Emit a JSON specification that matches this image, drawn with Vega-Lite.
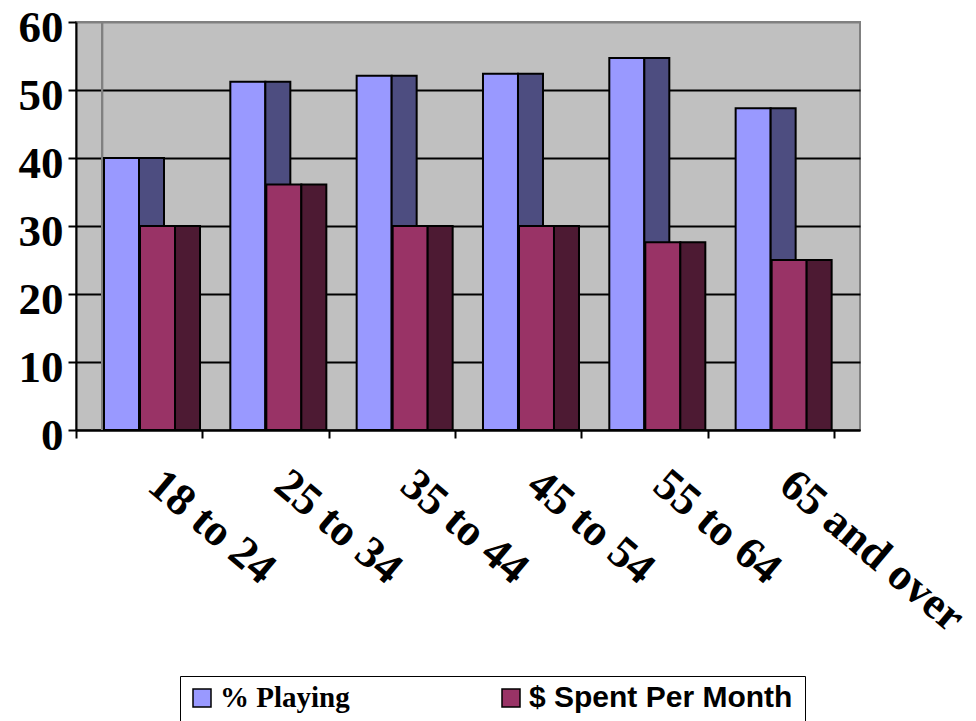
{
  "$schema": "https://vega.github.io/schema/vega-lite/v6.json",
  "autosize": {"type": "none"},
  "width": 784,
  "height": 408,
  "padding": {"left": 76, "top": 22, "right": 116, "bottom": 291},
  "background": "white",
  "view": {"fill": "#C0C0C0", "stroke": "#808080", "strokeWidth": 2},
  "data": {
    "values": [
      {"age": "18 to 24", "series": "% Playing", "value": 40},
      {"age": "18 to 24", "series": "$ Spent Per Month", "value": 30},
      {"age": "25 to 34", "series": "% Playing", "value": 51.2},
      {"age": "25 to 34", "series": "$ Spent Per Month", "value": 36.1},
      {"age": "35 to 44", "series": "% Playing", "value": 52.1},
      {"age": "35 to 44", "series": "$ Spent Per Month", "value": 30},
      {"age": "45 to 54", "series": "% Playing", "value": 52.4},
      {"age": "45 to 54", "series": "$ Spent Per Month", "value": 30},
      {"age": "55 to 64", "series": "% Playing", "value": 54.7},
      {"age": "55 to 64", "series": "$ Spent Per Month", "value": 27.6},
      {"age": "65 and over", "series": "% Playing", "value": 47.3},
      {"age": "65 and over", "series": "$ Spent Per Month", "value": 25}
    ]
  },
  "encoding": {
    "x": {
      "field": "age",
      "type": "nominal",
      "sort": null,
      "scale": {"paddingInner": 0, "paddingOuter": 0.103, "align": 0},
      "axis": {
        "title": null,
        "tickBand": "extent",
        "domainColor": "black",
        "domainWidth": 2,
        "tickColor": "black",
        "tickWidth": 2,
        "tickSize": 8,
        "labelAngle": 40,
        "labelAlign": "left",
        "labelBaseline": "middle",
        "labelPadding": 40,
        "labelOffset": 15,
        "labelFont": "Liberation Serif",
        "labelFontSize": 45,
        "labelFontWeight": "bold",
        "labelColor": "black",
        "labelOverlap": false,
        "labelFlush": false,
        "labelLimit": 400
      }
    },
    "y": {
      "field": "value",
      "type": "quantitative",
      "scale": {"domain": [0, 60], "nice": false},
      "axis": {
        "title": null,
        "values": [0, 10, 20, 30, 40, 50, 60],
        "domainColor": "black",
        "domainWidth": 2,
        "tickColor": "black",
        "tickWidth": 2,
        "tickSize": 8,
        "labelPadding": 5,
        "labelOffset": 5,
        "labelFont": "Liberation Serif",
        "labelFontSize": 45,
        "labelFontWeight": "bold",
        "labelColor": "black",
        "grid": true,
        "gridWidth": 2,
        "gridColor": {"condition": {"test": "datum.value === 60", "value": "#808080"}, "value": "black"}
      }
    },
    "y2": {"datum": 0}
  },
  "layer": [
    {
      "mark": {"type": "rule", "color": "#808080", "strokeWidth": 2},
      "encoding": {
        "x": {"datum": "18 to 24", "type": "nominal", "bandPosition": 0.206},
        "y": null,
        "y2": null
      }
    },
    {
      "transform": [{"filter": "datum.series === '% Playing'"}],
      "mark": {"type": "bar", "stroke": "black", "strokeWidth": 2},
      "encoding": {
        "x": {"field": "age", "type": "nominal", "sort": null, "bandPosition": 0.2216},
        "x2": {"field": "age", "bandPosition": 0.4987},
        "color": {
          "field": "series",
          "type": "nominal",
          "scale": {"domain": ["% Playing", "$ Spent Per Month"], "range": ["#9999FF", "#993366"]},
          "legend": {
            "title": null,
            "orient": "none",
            "legendX": 104,
            "legendY": 654,
            "direction": "horizontal",
            "padding": 12,
            "fillColor": "white",
            "strokeColor": "black",
            "symbolType": "square",
            "symbolSize": 324,
            "symbolStrokeColor": "black",
            "symbolStrokeWidth": 1.5,
            "symbolOpacity": 1,
            "labelOffset": 8,
            "columnPadding": 149,
            "labelFontSize": 29,
            "labelFontWeight": "bold",
            "labelColor": "black",
            "labelLimit": 400,
            "encoding": {
              "labels": {
                "font": {"condition": {"test": "datum.value === '$ Spent Per Month'", "value": "Liberation Sans"}, "value": "Liberation Serif"},
                "fontSize": {"condition": {"test": "datum.value === '$ Spent Per Month'", "value": 30}, "value": 29}
              }
            }
          }
        }
      }
    },
    {
      "transform": [{"filter": "datum.series === '% Playing'"}],
      "mark": {"type": "bar", "stroke": "black", "strokeWidth": 2, "fill": "#4D4D80"},
      "encoding": {
        "x": {"field": "age", "type": "nominal", "sort": null, "bandPosition": 0.4987},
        "x2": {"field": "age", "bandPosition": 0.6966}
      }
    },
    {
      "transform": [{"filter": "datum.series === '$ Spent Per Month'"}],
      "mark": {"type": "bar", "stroke": "black", "strokeWidth": 2},
      "encoding": {
        "x": {"field": "age", "type": "nominal", "sort": null, "bandPosition": 0.5066},
        "x2": {"field": "age", "bandPosition": 0.7837},
        "color": {"field": "series", "type": "nominal"}
      }
    },
    {
      "transform": [{"filter": "datum.series === '$ Spent Per Month'"}],
      "mark": {"type": "bar", "stroke": "black", "strokeWidth": 2, "fill": "#4D1A33"},
      "encoding": {
        "x": {"field": "age", "type": "nominal", "sort": null, "bandPosition": 0.7837},
        "x2": {"field": "age", "bandPosition": 0.9816}
      }
    }
  ]
}
